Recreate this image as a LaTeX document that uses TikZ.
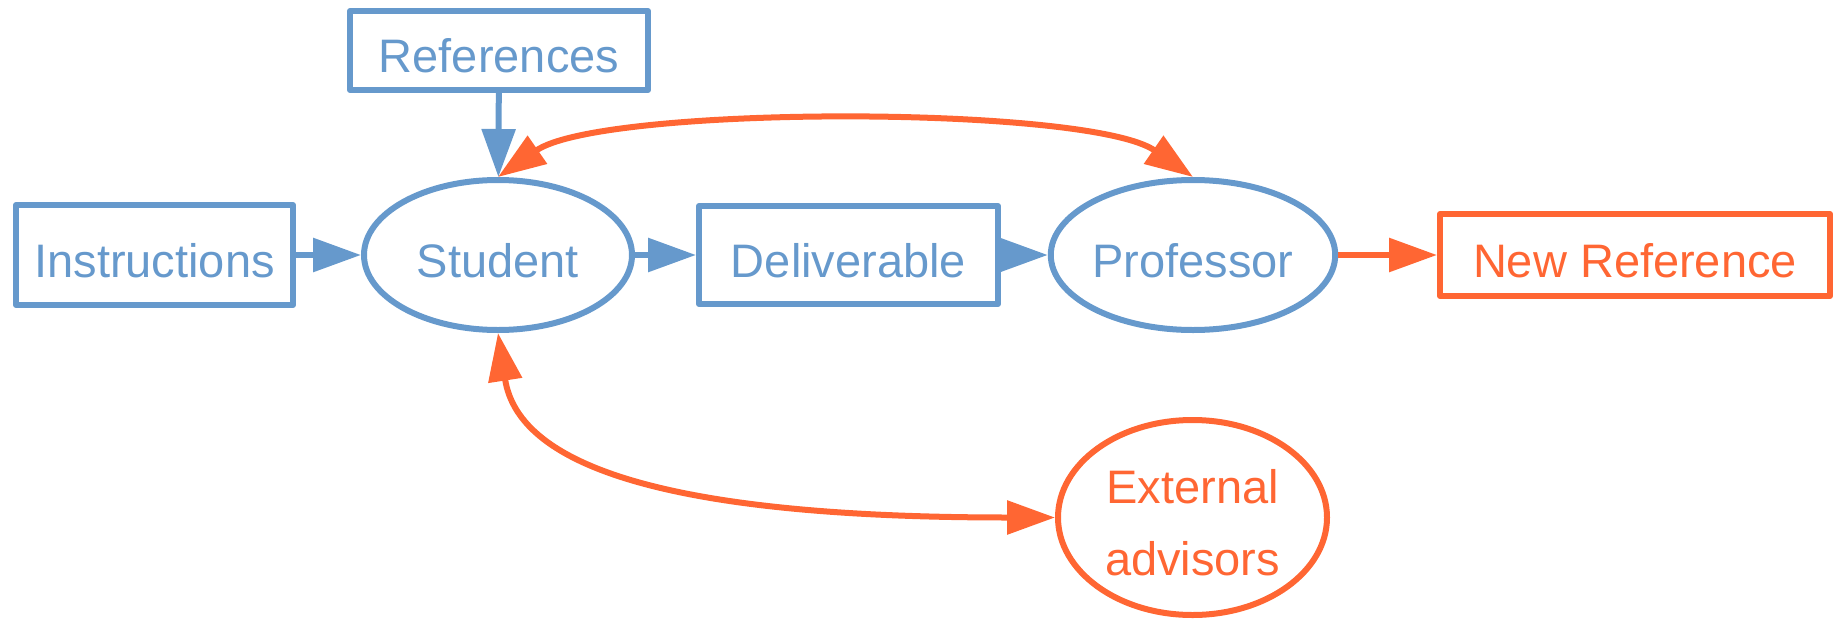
\documentclass[tikz,border=0pt]{standalone}
\usepackage{fontspec}
\setmainfont{Liberation Sans}
\usetikzlibrary{arrows.meta,shapes.geometric}

\definecolor{flowblue}{RGB}{102,153,204}
\definecolor{floworange}{RGB}{255,102,51}

\tikzset{
  flowbox/.style={draw, rectangle, line join=round, inner sep=0pt, line width=6pt,
    font=\fontsize{47}{72}\selectfont, text height=44pt, text depth=0pt},
  flowoval/.style={draw, ellipse, inner sep=0pt, line width=6pt,
    font=\fontsize{47}{72}\selectfont, text height=44pt, text depth=0pt},
  blueedge/.style={draw=flowblue, line width=6pt, -{Triangle[length=48pt,width=33pt]}},
  orangeedge/.style={draw=floworange, line width=6pt, -{Triangle[length=48pt,width=33pt]}},
  twoway/.style={draw=floworange, line width=6pt, {Triangle[length=48pt,width=33pt]}-{Triangle[length=48pt,width=33pt]}},
}

\begin{document}
\begin{tikzpicture}[x=1pt,y=1pt,yscale=-1,xscale=1]
    \useasboundingbox (0,0) rectangle (1838,621);

    % boxes and people
    \node [flowbox, draw=flowblue, text=flowblue, minimum width=277pt, minimum height=100pt] (instr) at (154.5,255) {Instructions};
    \node [flowbox, draw=flowblue, text=flowblue, minimum width=298pt, minimum height=79pt] (refs) at (499,50.5) {References};
    \node [flowoval, draw=flowblue, text=flowblue, minimum width=268pt, minimum height=150pt] (student) at (498,255) {Student};
    \node [flowbox, draw=flowblue, text=flowblue, minimum width=299pt, minimum height=98pt] (deliv) at (848.5,255) {Deliverable};
    \node [flowoval, draw=flowblue, text=flowblue, minimum width=270pt, minimum height=150pt] (prof) at (1193,255) {Professor};
    \node [flowbox, draw=floworange, text=floworange, minimum width=390pt, minimum height=82pt] (newref) at (1635,255) {New Reference};
    \node [flowoval, draw=floworange, text=floworange, align=center, text height=116pt, text depth=0pt,
           minimum width=269pt, minimum height=195pt] (extadv) at (1192.5,517.5) {External\\advisors};

    % main flow
    \draw [blueedge] (instr) -- (student);
    \draw [blueedge] (refs) -- (student);
    \draw [blueedge] (student) -- (deliv);
    \draw [blueedge] (deliv) -- (prof);
    \draw [orangeedge] (prof) -- (newref);

    % feedback loops
    \draw [twoway] (student.north) .. controls +(104,-72) and +(-104,-72) .. (prof.north);
    \draw [twoway] (student.south) .. controls +(21,137) and +(-375,0) .. (extadv.west);

\end{tikzpicture}
\end{document}
